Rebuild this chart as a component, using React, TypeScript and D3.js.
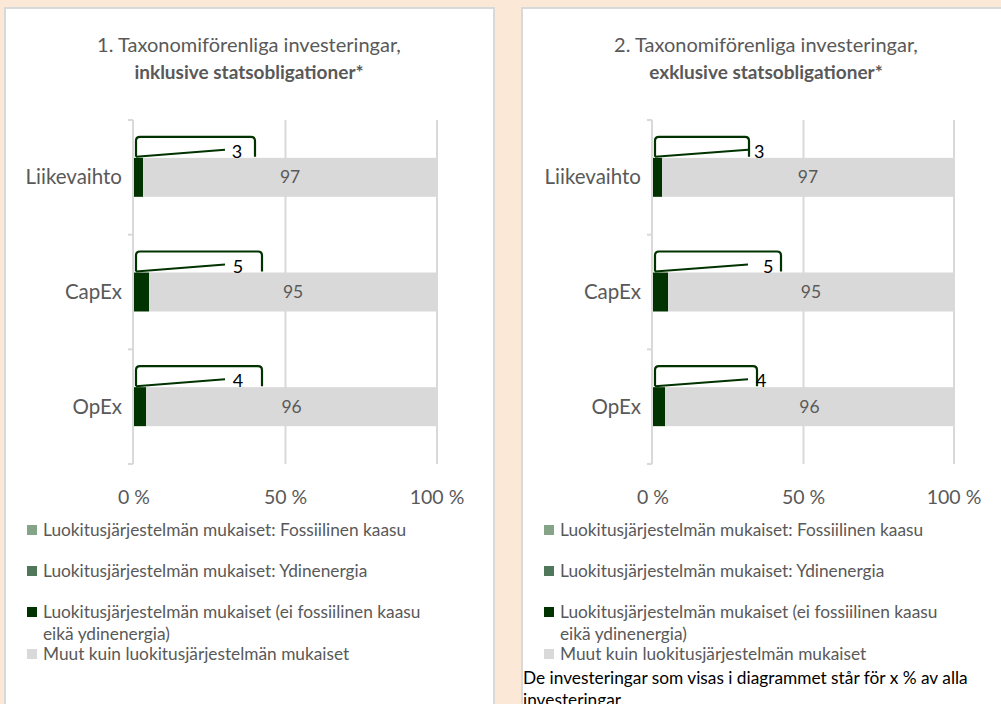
import React from "react";
import * as d3 from "d3";

const categories = ["Liikevaihto", "CapEx", "OpEx"];
const fossilGas = [0, 0, 0];
const nuclear = [0, 0, 0];
const aligned = [3, 5, 4];
const other = [97, 95, 96];
const xTicks = [0, 50, 100];
const legendLabels = [
  "Luokitusjärjestelmän mukaiset: Fossiilinen kaasu",
  "Luokitusjärjestelmän mukaiset: Ydinenergia",
  "Luokitusjärjestelmän mukaiset (ei fossiilinen kaasu|eikä ydinenergia)",
  "Muut kuin luokitusjärjestelmän mukaiset",
];
const titles = [
  ["1. Taxonomiförenliga investeringar,", "inklusive statsobligationer*"],
  ["2. Taxonomiförenliga investeringar,", "exklusive statsobligationer*"],
];
const footnote = ["De investeringar som visas i diagrammet står för x % av alla", "investeringar."];

const colors = ["#85A387", "#51775A", "#003300", "#D9D9D9"];
const FONT = "Lato, 'Open Sans', sans-serif";
const TXT = "#595959";

// callout layout per panel (offsets from 0% position, px)
const panels = [
  { left: 5, x0: 134, x1: 437, boxR: [121, 128, 128], lineEnd: [91, 91, 91], labelX: [103, 104, 104], labelAnchor: "middle" },
  { left: 522, x0: 653, x1: 954, boxR: [96, 128, 104], lineEnd: [95, 95, 95], labelX: [101, 110, 103], labelAnchor: "start" },
];

function Panel({ p, idx }: { p: any; idx: number }) {
  const x = d3.scaleLinear().domain([0, 100]).range([p.x0, p.x1]);
  const y = d3.scaleBand().domain(categories).range([120, 464]).paddingInner(0.66).paddingOuter(0.33);
  const yb = d3.scaleBand().domain(categories).range([120, 464]);
  const stackData = categories.map((c, i) => ({ c, f: fossilGas[i], n: nuclear[i], a: aligned[i], o: other[i] }));
  const series = d3.stack<any>().keys(["f", "n", "a", "o"])(stackData);
  const cx = p.left + 244;
  return (
    <g>
      <rect x={p.left} y={8} width={489} height={720} fill="#fff" stroke="#D9D9D9" strokeWidth={2} />
      <text x={cx} y={52} textAnchor="middle" fontFamily={FONT} fontSize={20} fill={TXT}>{titles[idx][0]}</text>
      <text x={cx} y={79} textAnchor="middle" fontFamily={FONT} fontSize={19} fontWeight="bold" fill={TXT}>{titles[idx][1]}</text>
      {xTicks.map((t) => (
        <g key={t}>
          {t > 0 && <line x1={x(t)} x2={x(t)} y1={120} y2={464} stroke="#D9D9D9" strokeWidth={2} />}
          <text x={x(t)} y={504} textAnchor="middle" fontFamily={FONT} fontSize={19.5} fill={TXT}>{t} %</text>
        </g>
      ))}
      <line x1={x(0) - 1} x2={x(0) - 1} y1={120} y2={464} stroke="#D9D9D9" strokeWidth={2} />
      {[...categories.map((c) => yb(c)!), 464].map((v, i) => (
        <line key={i} x1={x(0) - 6} x2={x(0) - 1} y1={v} y2={v} stroke="#D9D9D9" strokeWidth={2} />
      ))}
      {categories.map((c) => (
        <text key={c} x={x(0) - 12} y={y(c)! + y.bandwidth() / 2 + 7} textAnchor="end" fontFamily={FONT} fontSize={20.5} fill={TXT}>{c}</text>
      ))}
      {series.map((s, si) => (
        <g key={si} fill={colors[si]}>
          {s.map((d, i) => (
            <rect key={i} x={x(d[0])} y={y(categories[i])} width={Math.max(0, x(d[1]) - x(d[0]))} height={y.bandwidth()} />
          ))}
        </g>
      ))}
      {categories.map((c, i) => (
        <text key={c} x={x(aligned[i] + other[i] / 2)} y={y(c)! + y.bandwidth() / 2 + 6} textAnchor="middle" fontFamily={FONT} fontSize={17.5} fill={TXT}>{other[i]}</text>
      ))}
      {categories.map((c, i) => {
        const top = y(c)!;
        const xl = x(0) + 2;
        const xr = x(0) + p.boxR[i];
        const bt = top - 21;
        const r = 4;
        const d = `M${xl},${top - 1} L${xl},${bt + r} Q${xl},${bt} ${xl + r},${bt} L${xr - r},${bt} Q${xr},${bt} ${xr},${bt + r} L${xr},${top - 1}`;
        return (
          <g key={c}>
            <path d={d} fill="none" stroke="#003300" strokeWidth={2.2} />
            <line x1={xl} y1={top - 1} x2={x(0) + p.lineEnd[i]} y2={top - 8} stroke="#003300" strokeWidth={2} />
            <text x={x(0) + p.labelX[i]} y={top} textAnchor={p.labelAnchor} fontFamily={FONT} fontSize={18} fill="#000">{aligned[i]}</text>
          </g>
        );
      })}
      {legendLabels.map((l, i) => {
        const ly = [530, 571, 612, 654][i];
        const lines = l.split("|");
        return (
          <g key={i}>
            <rect x={p.left + 22} y={ly - 5} width={10} height={10} fill={colors[i]} />
            {lines.map((t, j) => (
              <text key={j} x={p.left + 38} y={ly + 6 + j * 22} fontFamily={FONT} fontSize={17.3} fill={TXT}>{t}</text>
            ))}
          </g>
        );
      })}
    </g>
  );
}

export default function App() {
  return (
    <svg width={1001} height={704} style={{ position: "absolute", left: 0, top: 0 }}>
      <rect width={1001} height={704} fill="#FBE8D7" />
      {panels.map((p, i) => <Panel key={i} p={p} idx={i} />)}
      {footnote.map((t, j) => (
        <text key={j} x={523} y={684 + j * 22} fontFamily={FONT} fontSize={17.3} fill="#000">{t}</text>
      ))}
    </svg>
  );
}
